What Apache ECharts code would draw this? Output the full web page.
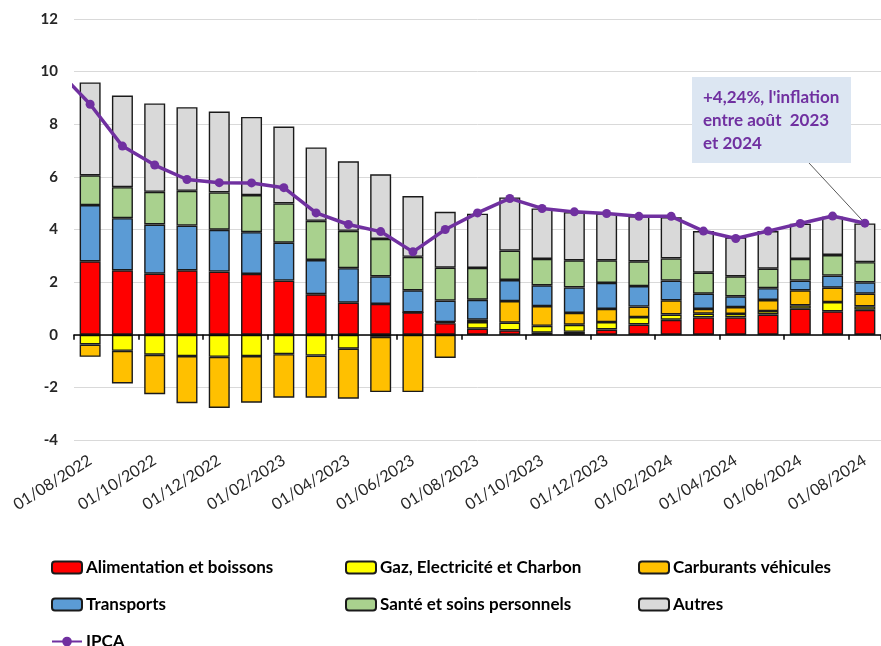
<!DOCTYPE html>
<html>
<head>
<meta charset="utf-8">
<script src="https://cdn.jsdelivr.net/npm/echarts@6/dist/echarts.min.js"></script>
<style>
html,body{margin:0;padding:0;background:#fff;}
#chart{width:881px;height:646px;}
</style>
</head>
<body>
<div id="chart"></div>
<script>
const months = ['01/08/2022','01/09/2022','01/10/2022','01/11/2022','01/12/2022','01/01/2023','01/02/2023','01/03/2023','01/04/2023','01/05/2023','01/06/2023','01/07/2023','01/08/2023','01/09/2023','01/10/2023','01/11/2023','01/12/2023','01/01/2024','01/02/2024','01/03/2024','01/04/2024','01/05/2024','01/06/2024','01/07/2024','01/08/2024'];
const alimentation = [2.79,2.45,2.32,2.45,2.40,2.31,2.06,1.54,1.22,1.17,0.85,0.44,0.23,0.17,0.08,0.11,0.20,0.39,0.57,0.66,0.66,0.77,0.99,0.89,0.95];
const gaz = [-0.37,-0.61,-0.76,-0.81,-0.84,-0.81,-0.74,-0.79,-0.53,-0.08,0,0.04,0.25,0.29,0.26,0.27,0.28,0.28,0.20,0.14,0.13,0.13,0.13,0.35,0.13];
const carburants = [-0.47,-1.24,-1.50,-1.79,-1.94,-1.77,-1.65,-1.60,-1.90,-2.10,-2.18,-0.88,0.09,0.82,0.75,0.45,0.50,0.40,0.54,0.18,0.26,0.42,0.57,0.55,0.48];
const transports = [2.14,1.98,1.87,1.70,1.59,1.59,1.44,1.30,1.31,1.05,0.84,0.82,0.76,0.80,0.79,0.97,0.99,0.78,0.75,0.58,0.41,0.45,0.37,0.46,0.43];
const sante = [1.13,1.18,1.24,1.32,1.42,1.41,1.49,1.49,1.42,1.42,1.27,1.25,1.21,1.12,1.00,1.03,0.86,0.94,0.84,0.80,0.76,0.74,0.82,0.78,0.77];
const autres = [3.53,3.48,3.36,3.18,3.07,2.97,2.92,2.79,2.64,2.46,2.31,2.12,2.06,2.02,1.92,1.83,1.78,1.72,1.57,1.58,1.48,1.43,1.34,1.45,1.47];
const ipca = [8.76,7.17,6.45,5.90,5.78,5.77,5.59,4.63,4.19,3.92,3.15,4.00,4.63,5.18,4.80,4.67,4.61,4.50,4.50,3.94,3.66,3.94,4.23,4.51,4.24];
const ipcaPrev = 10.05; // value of the month before the first shown (line enters from the left)
const yTicks = {min:-4, max:12, interval:2};

const FONT = 'Lato';
const border = {borderColor:'#1a1a1a', borderWidth:1.4};
function bar(name, data, color){
  return {name, type:'bar', stack:'s', data, barWidth:21,
    itemStyle:Object.assign({color}, border), z:2};
}
function legendItem(left, top, name){
  return {orient:'horizontal', left, top, padding:0,
    itemWidth:30, itemHeight:12,
    textStyle:{fontFamily:FONT, fontSize:17, fontWeight:'bold', color:'#000', lineHeight:16, padding:[0,0,0,-1]},
    data:[name]};
}
const chart = echarts.init(document.getElementById('chart'), null, {renderer:'canvas'});
const option = {
  animation:false,
  backgroundColor:'#fff',
  grid:{left:74, right:-10, top:19, bottom:206, containLabel:false},
  xAxis:[
    {type:'category', data:months, position:'bottom',
     axisLine:{show:false, onZero:false}, axisTick:{show:false},
     axisLabel:{interval:1, rotate:32, margin:19, fontFamily:FONT, fontSize:16, color:'#262626'}},
    {type:'value', min:0, max:25, interval:2, position:'bottom', z:4,
     axisLine:{show:true, onZero:true, lineStyle:{color:'#000', width:1.5}},
     axisTick:{show:true, length:5, lineStyle:{color:'#000', width:1.5}},
     axisLabel:{show:false}, splitLine:{show:false}}
  ],
  yAxis:{type:'value', min:yTicks.min, max:yTicks.max, interval:yTicks.interval,
    axisLine:{show:false}, axisTick:{show:false},
    axisLabel:{margin:16, fontFamily:FONT, fontSize:15, fontWeight:'bold', color:'#262626'},
    splitLine:{lineStyle:{color:'#d9d9d9', width:1}}},
  legend:[
    legendItem(51, 559, 'Alimentation et boissons'),
    legendItem(51, 596, 'Transports'),
    legendItem(51, 633, 'IPCA'),
    legendItem(345, 559, 'Gaz, Electricité et Charbon'),
    legendItem(345, 596, 'Santé et soins personnels'),
    legendItem(638, 559, 'Carburants véhicules'),
    legendItem(638, 596, 'Autres')
  ],
  series:[
    bar('Alimentation et boissons', alimentation, '#ff0000'),
    bar('Gaz, Electricité et Charbon', gaz, '#ffff00'),
    bar('Carburants véhicules', carburants, '#ffc000'),
    bar('Transports', transports, '#5b9bd5'),
    bar('Santé et soins personnels', sante, '#a9d18e'),
    bar('Autres', autres, '#d9d9d9'),
    {name:'IPCA', type:'line', data:ipca, z:6,
     symbol:'circle', symbolSize:9,
     lineStyle:{color:'#7030a0', width:3.5}, itemStyle:{color:'#7030a0'},
     markLine:{silent:true, symbol:'none', label:{show:false},
       lineStyle:{color:'#595959', width:1, type:'solid'},
       data:[[{x:809, y:163}, {coord:[months.length-1, ipca[ipca.length-1]]}]]}},
    {name:'IPCA_lead', type:'line', xAxisIndex:1, z:6, clip:true, symbol:'none',
     data:[[-0.5, ipcaPrev],[0.5, ipca[0]]],
     lineStyle:{color:'#7030a0', width:3.5}}
  ],
  graphic:[
    {type:'rect', left:692, top:77, shape:{width:159, height:86}, style:{fill:'#dce6f2'}, z:10},
    {type:'text', left:703, top:86, z:11,
     style:{text:"+4,24%, l'inflation\nentre août  2023\net 2024", font:'bold 17px Lato', fill:'#7030a0', lineHeight:23}}
  ]
};
chart.setOption(option);
</script>
</body>
</html>
